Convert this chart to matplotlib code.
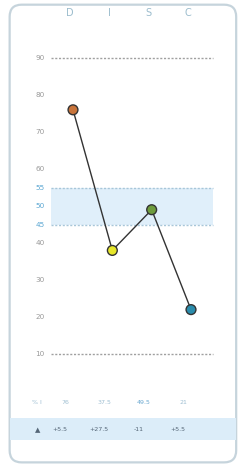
import matplotlib
matplotlib.use("Agg")
import matplotlib.pyplot as plt
import matplotlib.patches as mpatches

# DISC profile values
letters = ["D", "I", "S", "C"]
scores = [76, 38, 49, 22]
marker_colors = ["#c8743a", "#e6e62a", "#6e9c3c", "#2a8cac"]
percent_labels = ["76", "37.5", "49.5", "21"]
delta_labels = ["+5.5", "+27.5", "-11", "+5.5"]
yticks = [10, 20, 30, 40, 45, 50, 55, 60, 70, 80, 90]
band = (45, 55)
guide_lines = [10, 90]

fig = plt.figure(figsize=(2.41, 4.68), dpi=100)
ax = fig.add_axes([0, 0, 1, 1])
ax.set_xlim(-1.856, 4.271)
ax.set_ylim(-20.81, 105.68)
ax.axis("off")

# rounded card border
card = mpatches.FancyBboxPatch((0.04, 0.012), 0.94, 0.978,
                               boxstyle="round,pad=0,rounding_size=0.05",
                               transform=fig.transFigure, facecolor="none",
                               edgecolor="#c6d4dc", linewidth=1.6, zorder=-1,
                               mutation_aspect=241 / 468)
fig.patches.append(card)

# header strip with letters
for i, l in enumerate(letters):
    ax.text(i - 0.08, 102.3, l, ha="center", va="center", fontsize=7,
            color="#9bbccd")

# y tick labels
for t in yticks:
    blue = band[0] <= t <= band[1]
    ax.text(-0.72, t, str(t), ha="right", va="center", fontsize=5.2,
            color="#5aa6d2" if blue else "#999999")

# shaded band 45-55
ax.fill_between([-0.55, 3.56], band[0], band[1], color="#e0effa", zorder=1, lw=0)
for b in band:
    ax.plot([-0.55, 3.56], [b, b], linestyle=(0, (1.5, 1.2)), color="#a8c6d8",
            lw=1.0, zorder=2)
for g in guide_lines:
    ax.plot([-0.55, 3.56], [g, g], linestyle=(0, (1.5, 1.2)), color="#a0a0a0",
            lw=1.0, zorder=2)

# profile line
xs = list(range(len(scores)))
ax.plot(xs, scores, color="#333333", lw=1.0, zorder=3)
ax.scatter(xs, scores, s=50, c=marker_colors, edgecolors="#333333",
           linewidths=1.0, zorder=4)

# percent row
ax.text(-0.98, -3.2, "%", ha="center", va="center", fontsize=4.5, color="#9fbfd2")
ax.text(-0.82, -3.2, "I", ha="center", va="center", fontsize=4.5, color="#9fbfd2")
for i, p in enumerate(percent_labels):
    ax.text(i - 0.2, -3.2, p, ha="center", va="center", fontsize=4.5,
            color="#6aa8d0" if i == 2 else "#9fbfd2")

# delta row on light band
ax.add_patch(mpatches.Rectangle((0.04, 0.06), 0.94, 0.047, transform=fig.transFigure,
                                facecolor="#dcedf9", edgecolor="none", zorder=1))
ax.text(-0.9, -10.5, "\u25b2", ha="center", va="center", fontsize=5, color="#556677")
for i, d in enumerate(delta_labels):
    ax.text(i - 0.33, -10.5, d, ha="center", va="center", fontsize=4.5, color="#556677")

fig.savefig("out.png", dpi=100)
